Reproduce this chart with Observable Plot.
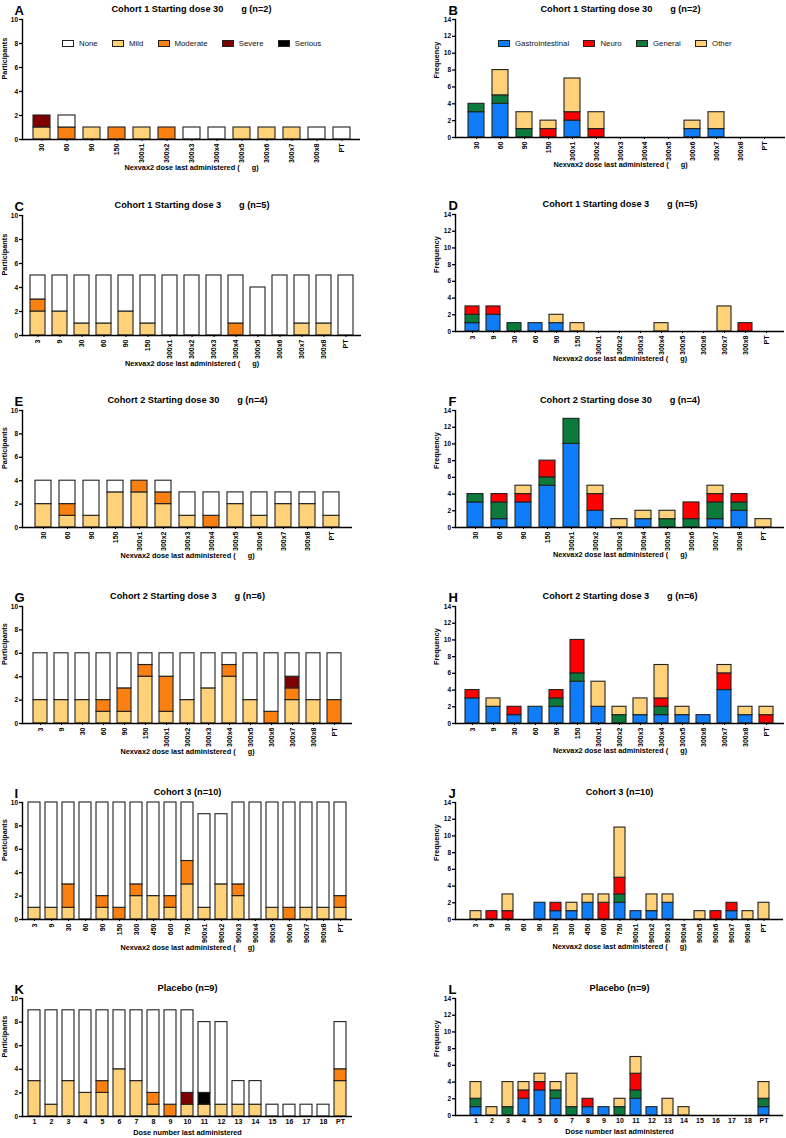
<!DOCTYPE html>
<html><head><meta charset="utf-8">
<script src="https://cdn.jsdelivr.net/npm/d3@7"></script>
<script src="https://cdn.jsdelivr.net/npm/@observablehq/plot@0.6"></script>
<style>
body{margin:0;background:#fff;}
#root{position:relative;width:786px;height:1138px;overflow:hidden;background:#fff;font-family:"Liberation Sans",Arial,sans-serif;}
.panel{position:absolute;}
.legend{position:absolute;display:flex;align-items:center;height:8px;font-size:7.8px;font-family:"Liberation Sans",Arial,sans-serif;color:#111;white-space:nowrap;}
.legend .item{display:flex;align-items:center;margin-right:14.3px;}
.legend .sw{width:10px;height:5px;border:1px solid #222;margin-right:5px;}
</style></head><body><div id="root"></div><script>
// ---------- categories ----------
const dosesA = ["30","60","90","150","300x1","300x2","300x3","300x4","300x5","300x6","300x7","300x8","PT"];
const dosesC = ["3","9","30","60","90","150","300x1","300x2","300x3","300x4","300x5","300x6","300x7","300x8","PT"];
const dosesI = ["3","9","30","60","90","150","300","450","600","750","900x1","900x2","900x3","900x4","900x5","900x6","900x7","900x8","PT"];
const dosesK = ["1","2","3","4","5","6","7","8","9","10","11","12","13","14","15","16","17","18","PT"];

// ---------- severity (participants) ----------
const severityKeys = ["Mild","Moderate","Severe","Serious","None"]; // stack order bottom -> top
const legendSeverity = ["None","Mild","Moderate","Severe","Serious"];
const severityColors = ["#FFD27A","#FA8012","#7E0000","#000000","#FFFFFF"];

const mildA = [1,0,1,0,1,0,0,0,1,1,1,0,0];
const modA  = [0,1,0,1,0,1,0,0,0,0,0,0,0];
const sevA  = [1,0,0,0,0,0,0,0,0,0,0,0,0];
const serA  = [0,0,0,0,0,0,0,0,0,0,0,0,0];
const noneA = [0,1,0,0,0,0,1,1,0,0,0,1,1];

const mildC = [2,2,1,1,2,1,0,0,0,0,0,0,1,1,0];
const modC  = [1,0,0,0,0,0,0,0,0,1,0,0,0,0,0];
const sevC  = [0,0,0,0,0,0,0,0,0,0,0,0,0,0,0];
const serC  = [0,0,0,0,0,0,0,0,0,0,0,0,0,0,0];
const noneC = [2,3,4,4,3,4,5,5,5,4,4,5,4,4,5];

const mildE = [2,1,1,3,3,2,1,0,2,1,2,2,1];
const modE  = [0,1,0,0,1,1,0,1,0,0,0,0,0];
const sevE  = [0,0,0,0,0,0,0,0,0,0,0,0,0];
const serE  = [0,0,0,0,0,0,0,0,0,0,0,0,0];
const noneE = [2,2,3,1,0,1,2,2,1,2,1,1,2];

const mildG = [2,2,2,1,1,4,1,2,3,4,2,0,2,2,0];
const modG  = [0,0,0,1,2,1,3,0,0,1,0,1,1,0,2];
const sevG  = [0,0,0,0,0,0,0,0,0,0,0,0,1,0,0];
const serG  = [0,0,0,0,0,0,0,0,0,0,0,0,0,0,0];
const noneG = [4,4,4,4,3,1,2,4,3,1,4,5,2,4,4];

const mildI = [1,1,1,0,1,0,2,2,1,3,1,3,2,0,1,0,1,1,1];
const modI  = [0,0,2,0,1,1,1,0,1,2,0,0,1,0,0,1,0,0,1];
const sevI  = [0,0,0,0,0,0,0,0,0,0,0,0,0,0,0,0,0,0,0];
const serI  = [0,0,0,0,0,0,0,0,0,0,0,0,0,0,0,0,0,0,0];
const noneI = [9,9,7,10,8,9,7,8,8,5,8,6,7,10,9,9,9,9,8];

const mildK = [3,1,3,2,2,4,3,1,0,1,1,1,1,1,0,0,0,0,3];
const modK  = [0,0,0,0,1,0,0,1,1,0,0,0,0,0,0,0,0,0,1];
const sevK  = [0,0,0,0,0,0,0,0,0,1,0,0,0,0,0,0,0,0,0];
const serK  = [0,0,0,0,0,0,0,0,0,0,1,0,0,0,0,0,0,0,0];
const noneK = [6,8,6,7,6,5,6,7,8,7,6,7,2,2,1,1,1,1,4];

// ---------- event type (frequency) ----------
const typeKeys = ["Gastrointestinal","General","Neuro","Other"]; // stack order bottom -> top
const legendType = ["Gastrointestinal","Neuro","General","Other"];
const typeColors = ["#0F7DF7","#0B7A3B","#FF0000","#FFD27A"];

const giB  = [3,4,0,0,2,0,0,0,0,1,1,0,0];
const genB = [1,1,1,0,0,0,0,0,0,0,0,0,0];
const neuB = [0,0,0,1,1,1,0,0,0,0,0,0,0];
const othB = [0,3,2,1,4,2,0,0,0,1,2,0,0];

const giD  = [1,2,0,1,1,0,0,0,0,0,0,0,0,0,0];
const genD = [1,0,1,0,0,0,0,0,0,0,0,0,0,0,0];
const neuD = [1,1,0,0,0,0,0,0,0,0,0,0,0,1,0];
const othD = [0,0,0,0,1,1,0,0,0,1,0,0,3,0,0];

const giF  = [3,1,3,5,10,2,0,1,0,0,1,2,0];
const genF = [1,2,0,1,3,0,0,0,1,1,2,1,0];
const neuF = [0,1,1,2,0,2,0,0,0,2,1,1,0];
const othF = [0,0,1,0,0,1,1,1,1,0,1,0,1];

const giH  = [3,2,1,2,2,5,2,0,1,1,1,1,4,1,0];
const genH = [0,0,0,0,1,1,0,1,0,1,0,0,0,0,0];
const neuH = [1,0,1,0,1,4,0,0,0,1,0,0,2,0,1];
const othH = [0,1,0,0,0,0,3,1,2,4,1,0,1,1,1];

const giJ  = [0,0,0,0,2,1,1,2,0,2,1,1,2,0,0,0,1,0,0];
const genJ = [0,0,0,0,0,0,0,0,0,1,0,0,0,0,0,0,0,0,0];
const neuJ = [0,1,1,0,0,1,0,0,2,2,0,0,0,0,0,1,1,0,0];
const othJ = [1,0,2,0,0,0,1,1,1,6,0,2,1,0,1,0,0,1,2];

const giL  = [1,0,0,2,3,2,0,1,1,0,2,1,0,0,0,0,0,0,1];
const genL = [1,0,1,0,0,1,1,0,0,1,1,0,0,0,0,0,0,0,1];
const neuL = [0,0,0,1,1,0,0,1,0,0,2,0,0,0,0,0,0,0,0];
const othL = [2,1,3,1,1,1,4,0,0,1,2,0,2,1,0,0,0,0,2];

// ---------- texts ----------
const mu = "\u00A0\u00A0\u00A0\u00A0\u00A0\u00A0\u00A0";
const xTitleDose = "Nexvax2 dose last administered (" + "\u00A0\u00A0\u00A0\u00A0\u00A0\u00A0" + "g)";
const xTitleNum = "Dose number last administered";

const panels = [
  {letter:"A", title:"Cohort 1 Starting dose 30"+mu+"g (n=2)", cats:dosesA, kind:"sev", vals:[mildA,modA,sevA,serA,noneA], col:0, top:19, bottom:139, mr:33, xt:xTitleDose, rot:true},
  {letter:"B", title:"Cohort 1 Starting dose 30"+mu+"g (n=2)", cats:dosesA, kind:"type", vals:[giB,genB,neuB,othB], col:1, top:19, bottom:137, mr:1, xt:xTitleDose, rot:true},
  {letter:"C", title:"Cohort 1 Starting dose 3"+mu+"g (n=5)", cats:dosesC, kind:"sev", vals:[mildC,modC,sevC,serC,noneC], col:0, top:215, bottom:335, mr:32, xt:xTitleDose, rot:true},
  {letter:"D", title:"Cohort 1 Starting dose 3"+mu+"g (n=5)", cats:dosesC, kind:"type", vals:[giD,genD,neuD,othD], col:1, top:214, bottom:331, mr:2, xt:xTitleDose, rot:true},
  {letter:"E", title:"Cohort 2 Starting dose 30"+mu+"g (n=4)", cats:dosesA, kind:"sev", vals:[mildE,modE,sevE,serE,noneE], col:0, top:410, bottom:527, mr:41, xt:xTitleDose, rot:true},
  {letter:"F", title:"Cohort 2 Starting dose 30"+mu+"g (n=4)", cats:dosesA, kind:"type", vals:[giF,genF,neuF,othF], col:1, top:410, bottom:527, mr:2, xt:xTitleDose, rot:true},
  {letter:"G", title:"Cohort 2 Starting dose 3"+mu+"g (n=6)", cats:dosesC, kind:"sev", vals:[mildG,modG,sevG,serG,noneG], col:0, top:606, bottom:723, mr:41, xt:xTitleDose, rot:true},
  {letter:"H", title:"Cohort 2 Starting dose 3"+mu+"g (n=6)", cats:dosesC, kind:"type", vals:[giH,genH,neuH,othH], col:1, top:606, bottom:723, mr:2, xt:xTitleDose, rot:true},
  {letter:"I", title:"Cohort 3 (n=10)", cats:dosesI, kind:"sev", vals:[mildI,modI,sevI,serI,noneI], col:0, top:802, bottom:919, mr:41, xt:xTitleDose, rot:true},
  {letter:"J", title:"Cohort 3 (n=10)", cats:dosesI, kind:"type", vals:[giJ,genJ,neuJ,othJ], col:1, top:802, bottom:919, mr:3, xt:xTitleDose, rot:true},
  {letter:"K", title:"Placebo (n=9)", cats:dosesK, kind:"sev", vals:[mildK,modK,sevK,serK,noneK], col:0, top:998, bottom:1116, mr:41, xt:xTitleNum, rot:false},
  {letter:"L", title:"Placebo (n=9)", cats:dosesK, kind:"type", vals:[giL,genL,neuL,othL], col:1, top:998, bottom:1115, mr:3, xt:xTitleNum, rot:false}
];

const root = document.getElementById("root");
const FONT = "'Liberation Sans', Arial, sans-serif";

for (const p of panels) {
  const sev = p.kind === "sev";
  const keys = sev ? severityKeys : typeKeys;
  const colors = sev ? severityColors : typeColors;
  const ml = p.col === 0 ? 22 : 62;
  const mt = 19, mb = 44;
  const height = mt + (p.bottom - p.top) + mb;
  const yMax = sev ? 10 : 14;
  const data = [];
  keys.forEach((k, si) => p.vals[si].forEach((v, i) => { if (v > 0) data.push({cat: p.cats[i], key: k, v}); }));
  const svg = Plot.plot({
    width: 393, height,
    marginLeft: ml, marginRight: p.mr, marginTop: mt, marginBottom: mb,
    style: {fontFamily: FONT, fontWeight: "bold", fontSize: "6.5px", color: "#000", background: "transparent", overflow: "visible"},
    x: {domain: p.cats, padding: 0.32, label: null},
    y: {domain: [0, yMax], label: null},
    color: {domain: keys, range: colors},
    marks: [
      Plot.barY(data, {x: "cat", y: "v", fill: "key", stroke: "#222", strokeWidth: 1.1}),
      Plot.frame({anchor: "left", strokeWidth: 1.4, stroke: "#000"}),
      Plot.ruleY([0], {strokeWidth: 1.4, stroke: "#000"}),
      Plot.axisY({ticks: d3.range(0, yMax + 1, 2), tickSize: 3, tickPadding: 1.5, strokeWidth: 1.3, label: null}),
      p.rot
        ? Plot.axisX({tickRotate: -90, tickSize: 2, tickPadding: 2, strokeWidth: 1, fontSize: 7, label: null})
        : Plot.axisX({tickSize: 0, tickPadding: 3, fontSize: 7, label: null}),
      Plot.text([p.title], {text: d => d, frameAnchor: "top", dy: -14, fontSize: 9.2, fontWeight: "bold"}),
      Plot.text([p.letter], {text: d => d, frameAnchor: "top-left", textAnchor: "start", dx: p.col === 0 ? -8 : -7, dy: -14, fontSize: 13, fontWeight: "bold"}),
      Plot.text([sev ? "Participants" : "Frequency"], {text: d => d, frameAnchor: "left", rotate: -90, dx: p.col === 0 ? -18 : -19, fontSize: 7.3, fontWeight: "bold"}),
      Plot.text([p.xt], {text: d => d, frameAnchor: "bottom", dy: p.rot ? (p.col === 0 ? 30 : 29) : 18, fontSize: 7.3, fontWeight: "bold"})
    ]
  });
  const wrap = document.createElement("div");
  wrap.className = "panel";
  wrap.style.left = (p.col * 393) + "px";
  wrap.style.top = (p.top - mt) + "px";
  wrap.appendChild(svg);
  root.appendChild(wrap);
}

// legends (panels A and B)
function legend(names, keys, colors, left, top) {
  const div = document.createElement("div");
  div.className = "legend";
  div.style.left = left + "px";
  div.style.top = top + "px";
  for (const n of names) {
    const it = document.createElement("div");
    it.className = "item";
    const sw = document.createElement("div");
    sw.className = "sw";
    sw.style.background = colors[keys.indexOf(n)];
    const t = document.createElement("span");
    t.textContent = n;
    it.appendChild(sw); it.appendChild(t);
    div.appendChild(it);
  }
  root.appendChild(div);
}
legend(legendSeverity, severityKeys, severityColors, 62, 39);
legend(legendType, typeKeys, typeColors, 498, 39);
</script></body></html>
